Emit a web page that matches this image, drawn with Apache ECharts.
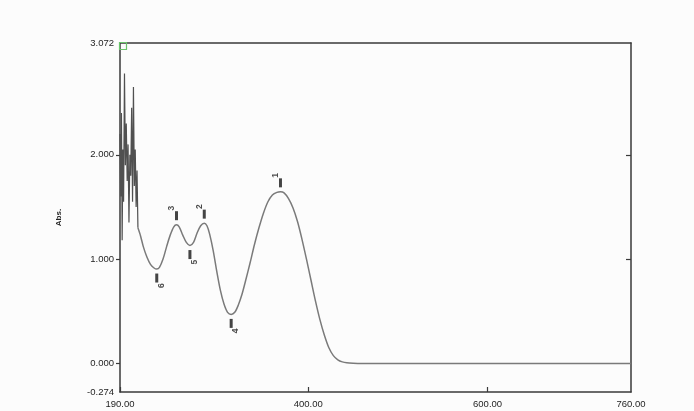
<!DOCTYPE html>
<html><head><meta charset="utf-8">
<script src="https://cdn.jsdelivr.net/npm/echarts@6/dist/echarts.min.js"></script>
<style>html,body{margin:0;padding:0;background:#fcfcfc}#c{width:694px;height:411px}</style>
</head><body><div id="c"></div>
<script>
// Axis ticks
const xTicks = [190, 400, 600, 760];
const yTicks = [-0.274, 0, 1, 2, 3.072];

// Noisy low-wavelength region (nm, Abs)
const noiseWl  = [190.0,190.8,191.6,192.4,193.2,194.0,195.0,196.0,197.0,198.0,199.0,200.0,201.0,202.0,203.0,204.0,205.0,206.0,207.0,208.0,209.0,210.0];
const noiseAbs = [2.20, 1.60, 2.40, 1.18, 2.05, 1.55, 2.78, 1.90, 2.30, 1.75, 2.10, 1.35, 2.00, 1.80, 2.45, 1.55, 2.65, 1.70, 2.05, 1.50, 1.85, 1.30];

// Smooth spectrum (nm, Abs)
const wl  = [210,213,216,220,224,228,231,234,238,242,246,250,253,256,260,264,268,272,276,280,284,287,290,294,298,302,306,310,314,318,322,326,330,335,340,345,350,355,360,365,369,373,378,383,388,393,398,403,408,413,418,423,428,433,438,443,450,460,500,560,620,680,760];
const abs = [1.30,1.22,1.12,1.02,0.95,0.915,0.905,0.92,1.00,1.12,1.23,1.31,1.33,1.31,1.23,1.16,1.13,1.16,1.25,1.32,1.345,1.32,1.24,1.08,0.88,0.70,0.57,0.49,0.47,0.49,0.56,0.66,0.79,0.96,1.14,1.30,1.44,1.55,1.615,1.64,1.645,1.635,1.58,1.49,1.36,1.19,1.00,0.80,0.60,0.42,0.27,0.15,0.075,0.035,0.015,0.006,0.002,0.0,0.0,0.0,0.0,0.0,0.0];

// Peak picks
const peakNames = ['1','2','3','4','5','6'];
const peakWl    = [369, 284, 253, 314, 268, 231];
const peakAbs   = [1.645, 1.345, 1.33, 0.47, 1.13, 0.905];
const peakDir   = ['up','up','up','down','down','down'];

const lineColor = '#7a7a7a';
const axisColor = '#3a3a3a';
const txt = {color:'#1e1e1e', fontSize:9.5, fontFamily:'Liberation Sans, Arial, sans-serif'};

const chart = echarts.init(document.getElementById('c'), null, {renderer:'canvas'});
chart.setOption({
  backgroundColor:'#fcfcfc',
  animation:false,
  grid:{left:120, right:63, top:43, bottom:19},
  xAxis:[{
    type:'value', min:190, max:760, position:'bottom',
    axisLine:{show:true, onZero:false, lineStyle:{color:axisColor, width:1.5}},
    axisTick:{show:true, inside:true, length:5, customValues:[190,400,600], lineStyle:{color:axisColor, width:1.2}},
    axisLabel:Object.assign({customValues:xTicks, margin:7, formatter:v=>v.toFixed(2)}, txt),
    splitLine:{show:false}
  },{
    type:'value', min:190, max:760, position:'top',
    axisLine:{show:true, onZero:false, lineStyle:{color:axisColor, width:1.5}},
    axisTick:{show:false}, axisLabel:{show:false}, splitLine:{show:false}
  }],
  yAxis:[{
    type:'value', min:-0.274, max:3.072, position:'left',
    name:'Abs.', nameLocation:'middle', nameRotate:90, nameGap:57,
    nameTextStyle:{color:'#222', fontSize:8, fontWeight:'bold', fontFamily:'Liberation Sans, Arial, sans-serif'},
    axisLine:{show:true, onZero:false, lineStyle:{color:axisColor, width:1.5}},
    axisTick:{show:true, inside:false, length:4, customValues:[0,1,2], lineStyle:{color:axisColor, width:1.2}},
    axisLabel:Object.assign({customValues:yTicks, margin:6, formatter:v=>v.toFixed(3)}, txt),
    splitLine:{show:false}
  },{
    type:'value', min:-0.274, max:3.072, position:'right',
    axisLine:{show:true, onZero:false, lineStyle:{color:axisColor, width:1.5}},
    axisTick:{show:true, inside:true, length:5, customValues:[1,2], lineStyle:{color:axisColor, width:1.2}},
    axisLabel:{show:false}, splitLine:{show:false}
  }],
  series:[{
    type:'line', data:noiseWl.map((x,i)=>[x,noiseAbs[i]]), symbol:'none', smooth:false,
    lineStyle:{color:'#505050', width:1.2},
    markPoint:{
      data:[{coord:[190,3.072]}], symbol:'rect', symbolSize:7, symbolOffset:[3,3],
      itemStyle:{color:'rgba(0,0,0,0)', borderColor:'#6cc46c', borderWidth:1.2},
      label:{show:false}
    }
  },{
    type:'line', data:wl.map((x,i)=>[x,abs[i]]), symbol:'none', smooth:0.3,
    lineStyle:{color:lineColor, width:1.5}
  },{
    type:'scatter', z:5,
    data:peakNames.map((n,i)=>({
      value:[peakWl[i], peakAbs[i]], name:n,
      symbolOffset:[0, peakDir[i]==='up' ? -9 : 9],
      label:{position: peakDir[i]==='up' ? 'top' : 'bottom'}
    })),
    symbol:'rect', symbolSize:[3,9],
    itemStyle:{color:'#151515'},
    label:{show:true, formatter:p=>p.name, rotate:90, distance:3, color:'#1a1a1a', fontSize:8.5, fontWeight:'bold', fontFamily:'Liberation Sans, Arial, sans-serif'}
  }]
});
</script></body></html>
